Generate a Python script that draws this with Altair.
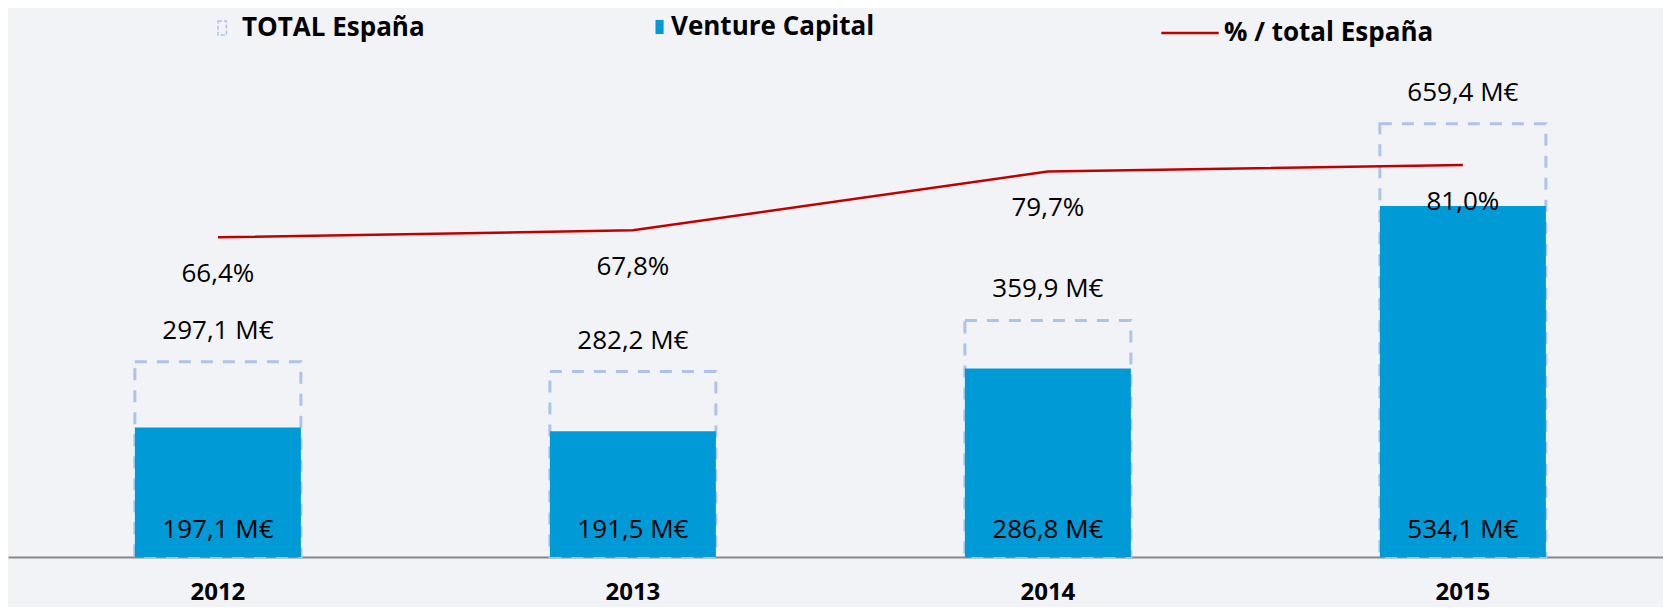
import altair as alt
import pandas as pd

years = ["2012", "2013", "2014", "2015"]
total_espana = [297.1, 282.2, 359.9, 659.4]
venture_capital = [197.1, 191.5, 286.8, 534.1]
pct_total = [66.4, 67.8, 79.7, 81.0]


def fmt(v):
    return f"{v:.1f}".replace(".", ",")


df = pd.DataFrame({
    "year": years,
    "total": total_espana,
    "vc": venture_capital,
    "pct": pct_total,
    "total_lbl": [fmt(v) + " M€" for v in total_espana],
    "vc_lbl": [fmt(v) + " M€" for v in venture_capital],
    "pct_lbl": [fmt(v) + "%" for v in pct_total],
    "k_total": ["TOTAL España"] * 4,
    "k_vc": ["Venture Capital"] * 4,
    "k_pct": ["% / total España"] * 4,
    "zero": [0] * 4,
})

FONT = "Open Sans"
BLUE = "#009ad6"
DASH = "#adc4ea"
RED = "#c00000"

x = alt.X(
    "year:N",
    scale=alt.Scale(paddingInner=0.6, paddingOuter=0.294, align=0.52),
    axis=alt.Axis(
        title=None, labelAngle=0, labelFont=FONT, labelFontWeight="bold",
        labelFontSize=24, labelColor="black", ticks=False, tickSize=0,
        labelPadding=35, labelBaseline="middle", domainColor="#888888",
        domainWidth=2, grid=False,
    ),
)
ybar = alt.Scale(domain=[0, 741], nice=False, zero=True)
ypct = alt.Scale(domain=[1.84, 100.18], nice=False, zero=False)

base = alt.Chart(df)

leg_common = dict(
    orient="none", title=None, labelFont=FONT, labelFontSize=26,
    labelFontWeight="bold", labelColor="black", padding=0, labelLimit=500,
)

totals = base.mark_bar(fill="transparent", strokeWidth=3, strokeDash=[12, 10]).encode(
    x=x,
    y=alt.Y("total:Q", scale=ybar, axis=None),
    stroke=alt.Stroke(
        "k_total:N",
        scale=alt.Scale(domain=["TOTAL España"], range=[DASH]),
        legend=alt.Legend(
            legendX=195, legendY=-57, symbolType="M0.0,-0.5H0.6V0.5H0.0Z",
            symbolSize=784, symbolFillColor="transparent", symbolStrokeWidth=1.5,
            symbolDash=[4, 2], labelOffset=9, **leg_common,
        ),
    ),
)

vc = base.mark_bar().encode(
    x=x,
    y=alt.Y("vc:Q", scale=ybar, axis=None),
    fill=alt.Fill(
        "k_vc:N",
        scale=alt.Scale(domain=["Venture Capital"], range=[BLUE]),
        legend=alt.Legend(
            legendX=629, legendY=-57, symbolType="M0.32,-0.5H0.9V0.5H0.32Z",
            symbolSize=784, symbolStrokeWidth=0, labelOffset=6, **leg_common,
        ),
    ),
)

line = base.mark_line(strokeWidth=2.5).encode(
    x=x,
    y=alt.Y("pct:Q", scale=ypct, axis=None),
    color=alt.Color(
        "k_pct:N",
        scale=alt.Scale(domain=["% / total España"], range=[RED]),
        legend=alt.Legend(
            legendX=1152, legendY=-67, symbolType="stroke", symbolSize=3300,
            symbolStrokeWidth=2.5, labelOffset=4, **leg_common,
        ),
    ),
)

txt = dict(font=FONT, fontSize=26, color="black", baseline="middle", align="center")

total_lbl = base.mark_text(dy=-31, **txt).encode(
    x=x, y=alt.Y("total:Q", scale=ybar, axis=None), text="total_lbl:N"
)
vc_lbl = base.mark_text(dy=-27, **txt).encode(
    x=x, y=alt.Y("zero:Q", scale=ybar, axis=None), text="vc_lbl:N"
)
pct_lbl = base.mark_text(dy=37, **txt).encode(
    x=x, y=alt.Y("pct:Q", scale=ypct, axis=None), text="pct_lbl:N"
)

chart = (
    alt.layer(totals, vc, line, total_lbl, vc_lbl, pct_lbl)
    .resolve_scale(y="independent")
    .properties(
        width=1655, height=487,
        padding={"left": 0, "top": 62, "right": 0, "bottom": 50},
        autosize=alt.AutoSizeParams(type="none"),
        background="#f2f3f6",
    )
    .configure_view(stroke=None)
)

chart.save("out.html", embed_options={"renderer": "svg", "actions": False})
